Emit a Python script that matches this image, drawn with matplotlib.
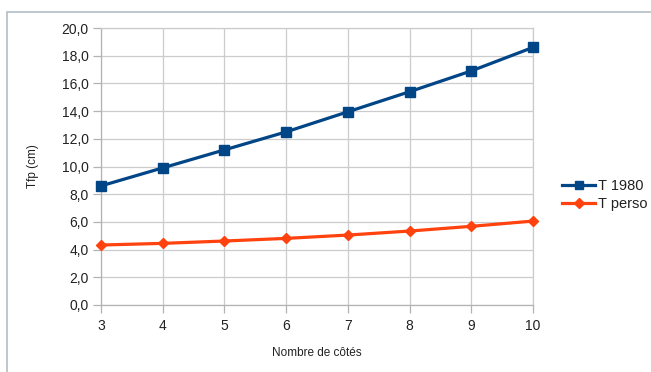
import matplotlib
matplotlib.use("Agg")
import matplotlib.pyplot as plt
from matplotlib.patches import Rectangle
from matplotlib.ticker import FuncFormatter, MultipleLocator

plt.rcParams['font.family'] = ['Liberation Sans', 'DejaVu Sans']

cotes = [3, 4, 5, 6, 7, 8, 9, 10]
t_1980 = [8.6, 9.9, 11.2, 12.5, 13.95, 15.4, 16.9, 18.6]
t_perso = [4.33, 4.45, 4.62, 4.81, 5.05, 5.34, 5.68, 6.06]

W, H = 651, 372
fig = plt.figure(figsize=(W / 100, H / 100), dpi=100)
fig.patch.set_facecolor('white')

# outer frame of the chart area
fig.patches.append(Rectangle((7 / W, -0.05), 1.0, 1 - 12 / H + 0.05,
                             transform=fig.transFigure, fill=False,
                             edgecolor='#b4bec6', linewidth=1.2))

ax = fig.add_axes([101 / W, 1 - 305 / H, (533 - 101) / W, (305 - 28) / H])
ax.plot(cotes, t_1980, color='#004586', linewidth=2.3, marker='s',
        markersize=7.5, label='T 1980', zorder=3, clip_on=False)
ax.plot(cotes, t_perso, color='#ff420e', linewidth=2.3, marker='D',
        markersize=5.5, label='T perso', zorder=3, clip_on=False)

ax.set_xlim(3, 10)
ax.set_ylim(0, 20)
ax.xaxis.set_major_locator(MultipleLocator(1))
ax.yaxis.set_major_locator(MultipleLocator(2))
ax.yaxis.set_major_formatter(FuncFormatter(lambda v, p: f"{v:.1f}".replace('.', ',')))

ax.grid(True, color='#cccccc', linewidth=0.9)
ax.set_axisbelow(True)
for s in ax.spines.values():
    s.set_color('#cccccc')
    s.set_linewidth(0.9)
ax.spines['left'].set_color('#b3b3b3')
ax.spines['bottom'].set_color('#b3b3b3')
ax.tick_params(axis='both', colors='#b3b3b3', labelcolor='#222222',
               labelsize=10, length=6, width=0.9, direction='out')
ax.tick_params(axis='y', pad=3)
ax.tick_params(axis='x', pad=4)

ax.set_ylabel('Tfp (cm)', fontsize=8.5, color='#222222', labelpad=16)
ax.set_xlabel('Nombre de côtés', fontsize=8.5, color='#222222', labelpad=10)

leg = fig.legend(loc='center left', bbox_to_anchor=(556 / W, 1 - 195 / H),
                 frameon=False, fontsize=10.5, handlelength=2.3,
                 handletextpad=0.2, labelspacing=0.3, borderaxespad=0,
                 markerscale=0.85)
for t in leg.get_texts():
    t.set_color('#222222')

fig.savefig('out.png', dpi=100)
